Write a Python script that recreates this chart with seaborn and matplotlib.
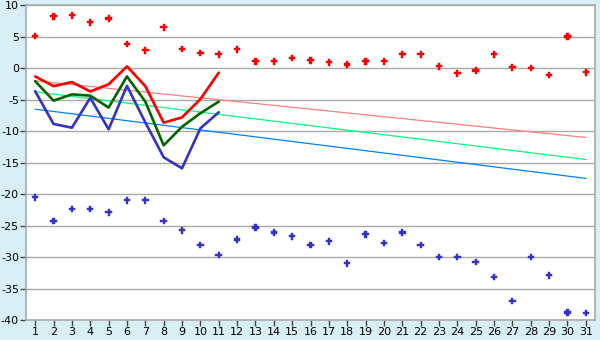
import matplotlib
matplotlib.use("Agg")
import matplotlib.pyplot as plt
import seaborn as sns
import pandas as pd
import numpy as np

days = list(range(1, 32))

red_points = [5.1, 8.25, 8.4, 7.3, 7.9, 3.85, 2.85, 6.5, 3.05, 2.4, 2.2, 3.0, 1.1, 1.1,
              1.6, 1.25, 0.95, 0.6, 1.1, 1.1, 2.2, 2.2, 0.3, -0.8, -0.35, 2.2, 0.15, 0.0,
              -1.1, 5.05, -0.65]
blue_points = [-20.5, -24.3, -22.4, -22.4, -22.9, -21.0, -21.0, -24.3, -25.75, -28.1,
               -29.7, -27.2, -25.3, -26.1, -26.7, -28.1, -27.5, -31.0, -26.4, -27.8,
               -26.1, -28.1, -30.0, -30.0, -30.8, -33.2, -37.0, -30.0, -32.9, -38.8, -38.9]

line_days = list(range(1, 12))
red_line = [-1.3, -2.85, -2.2, -3.7, -2.55, 0.3, -2.85, -8.65, -7.8, -4.9, -0.7]
green_line = [-2.05, -5.15, -4.15, -4.35, -6.25, -1.3, -5.3, -12.25, -9.3, -7.15, -5.3]
blue_line = [-3.65, -8.85, -9.45, -4.7, -9.7, -2.8, -8.6, -14.15, -15.9, -9.55, -7.0]

trend_days = [1, 31]
pink_trend = [-2.0, -11.0]
lime_trend = [-3.75, -14.5]
sky_trend = [-6.5, -17.5]

y_ticks = [10, 5, 0, -5, -10, -15, -20, -25, -30, -35, -40]

sns.set_theme(style="white")
plt.rcParams['font.family'] = ['DejaVu Sans']

bg = "#D9EFF6"
fig = plt.figure(figsize=(6, 3.4), dpi=100, facecolor=bg)
ax = fig.add_axes([26/600, 1-320/340, (595-26)/600, (320-5.3)/340])
ax.set_facecolor("white")

for yv in y_ticks:
    ax.axhline(yv, color="#AAAAAA", lw=1.0, zorder=0)

df_tr = pd.DataFrame({"day": trend_days * 3,
                      "v": pink_trend + lime_trend + sky_trend,
                      "s": ["p"] * 2 + ["l"] * 2 + ["s"] * 2})
sns.lineplot(data=df_tr, x="day", y="v", hue="s",
             palette={"p": "#FF8080", "l": "#00FF80", "s": "#0080FF"},
             lw=0.9, legend=False, ax=ax, zorder=2)

df_ln = pd.DataFrame({"day": line_days * 3,
                      "v": red_line + green_line + blue_line,
                      "s": ["r"] * 11 + ["g"] * 11 + ["b"] * 11})
sns.lineplot(data=df_ln, x="day", y="v", hue="s",
             palette={"r": "#FF0000", "g": "#006600", "b": "#3333CC"},
             lw=1.9, legend=False, ax=ax, zorder=3)

df_pt = pd.DataFrame({"day": days * 2, "v": red_points + blue_points,
                      "s": ["r"] * 31 + ["b"] * 31})
sns.scatterplot(data=df_pt, x="day", y="v", hue="s",
                palette={"r": "#FF0000", "b": "#3333CC"},
                marker="P", s=22, linewidth=0.3, legend=False, ax=ax, zorder=4)
for coll in ax.collections:
    coll.set_edgecolors(coll.get_facecolors())

ax.set_xlim(0.5, 31.5)
ax.set_ylim(-40, 10)
ax.set_xticks(days)
ax.set_xticklabels([str(d) for d in days])
ax.set_yticks(y_ticks)
ax.set_yticklabels([str(v).replace("\u2212", "-") for v in y_ticks])
ax.set_xlabel("")
ax.set_ylabel("")
for sp in ax.spines.values():
    sp.set_color("#AAAAAA")
    sp.set_linewidth(1.2)
ax.tick_params(axis="both", which="both", length=4, width=1, color="#444444",
               labelsize=8, labelcolor="#000000", direction="out", pad=1,
               left=True, bottom=True)
ax.grid(False)

fig.savefig("out.png", dpi=100, facecolor=bg)
